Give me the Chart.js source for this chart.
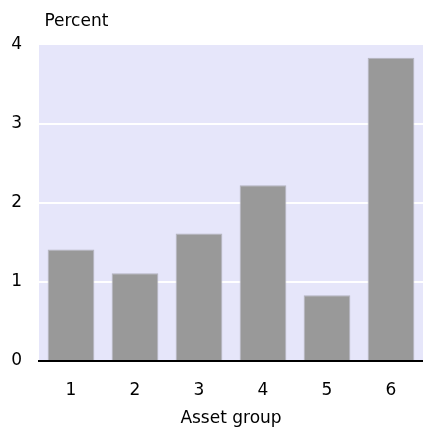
<!DOCTYPE html>
<html lang="en">
<head>
    <meta charset="UTF-8">
    <title>Asset group</title>
    <script src="https://cdn.jsdelivr.net/npm/chart.js"></script>
    <style>
        html, body { margin: 0; padding: 0; background: #fff; }
    </style>
</head>
<body>
    <canvas id="assetChart" width="423" height="430"></canvas>
    <script>
        // Values
        const groups = ['1', '2', '3', '4', '5', '6'];
        const percents = [1.41, 1.11, 1.61, 2.22, 0.83, 3.83];
        const yTicks = [0, 1, 2, 3, 4];

        // Lavender plot background
        const plotBackground = {
            id: 'plotBackground',
            beforeDraw(chart) {
                const { ctx, chartArea } = chart;
                ctx.save();
                ctx.fillStyle = '#e6e6fa';
                ctx.fillRect(chartArea.left, chartArea.top, chartArea.right - chartArea.left, chartArea.bottom - chartArea.top);
                ctx.restore();
            }
        };

        const font = { family: 'DejaVu Sans, sans-serif', size: 17, weight: 'normal' };
        const tightFont = { ...font, lineHeight: 1 };

        const ctx = document.getElementById('assetChart').getContext('2d');
        new Chart(ctx, {
            type: 'bar',
            data: {
                labels: groups,
                datasets: [{
                    data: percents,
                    backgroundColor: '#999999',
                    borderColor: '#b4b4c0',
                    borderWidth: 1,
                    categoryPercentage: 1,
                    barPercentage: 0.73
                }]
            },
            options: {
                responsive: false,
                animation: false,
                layout: { padding: { left: 0, right: 0, top: 0, bottom: 3 } },
                plugins: {
                    legend: { display: false },
                    tooltip: { enabled: false },
                    title: {
                        display: true,
                        text: ' Percent',
                        align: 'start',
                        fullSize: false,
                        color: '#000',
                        font: font,
                        padding: { top: 11, bottom: 13 }
                    }
                },
                scales: {
                    x: {
                        grid: { display: false },
                        border: { display: true, color: '#000', width: 2 },
                        ticks: { color: '#000', font: tightFont, padding: 13 },
                        title: { display: true, text: 'Asset group', color: '#000', font: tightFont, padding: { top: -2, bottom: 0 } }
                    },
                    y: {
                        min: 0,
                        max: 4,
                        afterBuildTicks(axis) { axis.ticks = yTicks.map(v => ({ value: v })); },
                        afterFit(axis) { axis.width = 39; },
                        grid: { color: '#ffffff', lineWidth: 2, drawTicks: false },
                        border: { display: false },
                        ticks: { color: '#000', font: font, padding: 17 }
                    }
                }
            },
            plugins: [plotBackground]
        });
    </script>
</body>
</html>
